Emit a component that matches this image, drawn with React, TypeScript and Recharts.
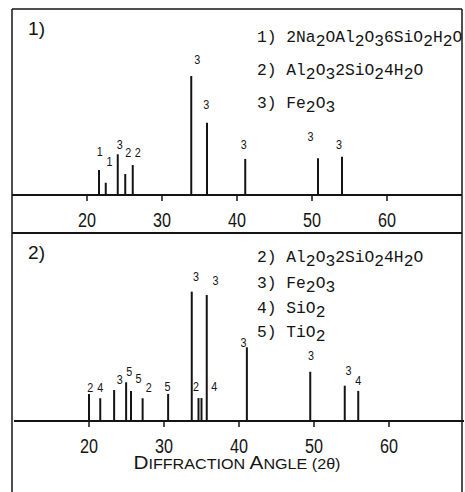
import React from "react";
import { ComposedChart, XAxis, YAxis, ReferenceLine, Scatter } from "recharts";

// ---- Panel 1 data ----
const angles1 = [21.6, 22.5, 24.1, 25.1, 26.1, 33.9, 36.0, 41.1, 50.8, 54.0];
const intens1 = [13.4, 6.6, 21.9, 11.3, 16.1, 64.0, 38.9, 19.4, 19.7, 20.6];
const labelText1 = ["1", "1", "3", "2", "2", "3", "3", "3", "3", "3"];
const labelAngle1 = [21.7, 23.0, 24.35, 25.5, 26.75, 34.7, 35.9, 40.9, 49.8, 53.6];
const labelInt1 = [23.3, 17.9, 27.4, 22.7, 22.7, 73.0, 48.9, 27.4, 31.3, 26.9];

// ---- Panel 2 data ----
const angles2 = [20.0, 21.5, 23.35, 24.95, 25.6, 27.15, 30.55, 33.7, 34.6, 35.0, 35.7, 41.05, 49.5, 54.1, 55.9];
const intens2 = [14.4, 12.1, 16.5, 20.6, 16.0, 12.1, 14.4, 68.8, 12.2, 12.2, 67.0, 39.2, 26.2, 18.8, 16.0];
const labelText2 = ["2", "4", "3", "5", "5", "2", "5", "3", "3", "2", "4", "3", "3", "3", "4"];
const labelAngle2 = [20.15, 21.5, 24.1, 25.35, 26.6, 27.95, 30.45, 34.25, 36.85, 34.25, 36.7, 40.6, 49.6, 54.6, 55.9];
const labelInt2 = [17.7, 17.7, 22.2, 26.2, 22.7, 17.9, 18.2, 77.1, 74.6, 18.6, 18.6, 42.0, 35.1, 26.8, 21.8];

const xTicks = [20, 30, 40, 50, 60];
const panelNames = ["1)", "2)"];
const legend1 = ["1) 2Na_2OAl_2O_36SiO_2H_2O", "2) Al_2O_32SiO_24H_2O", "3) Fe_2O_3"];
const legend2 = ["2) Al_2O_32SiO_24H_2O", "3) Fe_2O_3", "4) SiO_2", "5) TiO_2"];
const axisTitle = ["D", "IFFRACTION ", "A", "NGLE (2θ)"];

const SANS = "'Liberation Sans', Arial, sans-serif";
const MONO = "'Liberation Mono', 'DejaVu Sans Mono', monospace";
const INK = "#141414";

const Tick = (props: any) => {
  const { x, y, payload } = props;
  return (
    <text x={x} y={y + 24} textAnchor="middle" fontFamily={SANS} fontSize={19.5} fill={INK}
      textLength={18} lengthAdjust="spacingAndGlyphs">
      {payload.value}
    </text>
  );
};

const PeakLabel = (props: any) => {
  const { cx, cy, payload } = props;
  return (
    <text x={cx} y={cy} dy="0.36em" textAnchor="middle" fontFamily={SANS} fontSize={12.5} fill={INK}
      textLength={6} lengthAdjust="spacingAndGlyphs">
      {payload.label}
    </text>
  );
};

function Panel({ angles, intens, lt, la, li, height, axisH }: any) {
  const labels = lt.map((t: string, i: number) => ({ x: la[i], y: li[i], label: t }));
  return (
    <ComposedChart width={450} height={height} margin={{ top: 0, right: 0, bottom: 0, left: 0 }}>
      <XAxis
        type="number"
        dataKey="x"
        domain={[10, 70]}
        ticks={xTicks}
        allowDataOverflow
        height={axisH}
        axisLine={{ stroke: INK, strokeWidth: 1.8 }}
        tickLine={{ stroke: INK, strokeWidth: 1.5 }}
        tickSize={6}
        tick={<Tick />}
      />
      <YAxis type="number" dataKey="y" domain={[0, 100]} hide allowDataOverflow />
      {angles.map((a: number, i: number) => (
        <ReferenceLine
          key={i}
          segment={[{ x: a, y: 0 }, { x: a, y: intens[i] }]}
          stroke={INK}
          strokeWidth={2}
          ifOverflow="visible"
        />
      ))}
      <Scatter data={labels} dataKey="y" shape={<PeakLabel />} isAnimationActive={false} />
    </ComposedChart>
  );
}

function Formula({ text, x, y }: { text: string; x: number; y: number }) {
  const runs: { s: string; sub: boolean }[] = [];
  let i = 0;
  while (i < text.length) {
    if (text[i] === "_") {
      runs.push({ s: text[i + 1], sub: true });
      i += 2;
    } else {
      const last = runs[runs.length - 1];
      if (last && !last.sub) last.s += text[i];
      else runs.push({ s: text[i], sub: false });
      i++;
    }
  }
  let cur = 0;
  return (
    <text x={x} y={y} fontFamily={MONO} fontSize={16.3} fill={INK} style={{ whiteSpace: "pre" }}>
      {runs.map((r, k) => {
        const target = r.sub ? 4 : 0;
        const dy = target - cur;
        cur = target;
        return (
          <tspan key={k} dy={dy}>
            {r.s}
          </tspan>
        );
      })}
    </text>
  );
}

export default function App() {
  const rows1 = [42, 75, 108];
  const rows2 = [262, 287.5, 312.5, 336.5];
  return (
    <div style={{ position: "relative", width: 465, height: 492, background: "#fff", overflow: "hidden" }}>
      <style>{`html, body { margin: 0; padding: 0; overflow: hidden; }`}</style>
      <div style={{ position: "absolute", left: 12, top: 9 }}>
        <Panel angles={angles1} intens={intens1} lt={labelText1} la={labelAngle1} li={labelInt1} height={223} axisH={37} />
      </div>
      <div style={{ position: "absolute", left: 13.5, top: 233 }}>
        <Panel angles={angles2} intens={intens2} lt={labelText2} la={labelAngle2} li={labelInt2} height={251} axisH={63} />
      </div>
      <svg width={465} height={492} style={{ position: "absolute", left: 0, top: 0, pointerEvents: "none" }}>
        <line x1={12} y1={9} x2={462} y2={9} stroke={INK} strokeWidth={1.5} />
        <line x1={12} y1={9} x2={12} y2={492} stroke={INK} strokeWidth={1.5} />
        <line x1={462} y1={9} x2={462} y2={492} stroke={INK} strokeWidth={1.5} />
        <line x1={12} y1={233} x2={462} y2={233} stroke={INK} strokeWidth={1.8} />
        <text x={28} y={35} fontFamily={SANS} fontSize={19} fill={INK} textLength={17} lengthAdjust="spacingAndGlyphs">{panelNames[0]}</text>
        <text x={28} y={259} fontFamily={SANS} fontSize={19} fill={INK} textLength={17} lengthAdjust="spacingAndGlyphs">{panelNames[1]}</text>
        {legend1.map((t, i) => (
          <Formula key={i} text={t} x={257} y={rows1[i]} />
        ))}
        {legend2.map((t, i) => (
          <Formula key={i} text={t} x={257} y={rows2[i]} />
        ))}
        <text x={237} y={469} textAnchor="middle" fontFamily={SANS} fill={INK} textLength={207} lengthAdjust="spacingAndGlyphs">
          <tspan fontSize={18}>{axisTitle[0]}</tspan>
          <tspan fontSize={14}>{axisTitle[1]}</tspan>
          <tspan fontSize={18}>{axisTitle[2]}</tspan>
          <tspan fontSize={14}>{axisTitle[3]}</tspan>
        </text>
      </svg>
    </div>
  );
}
